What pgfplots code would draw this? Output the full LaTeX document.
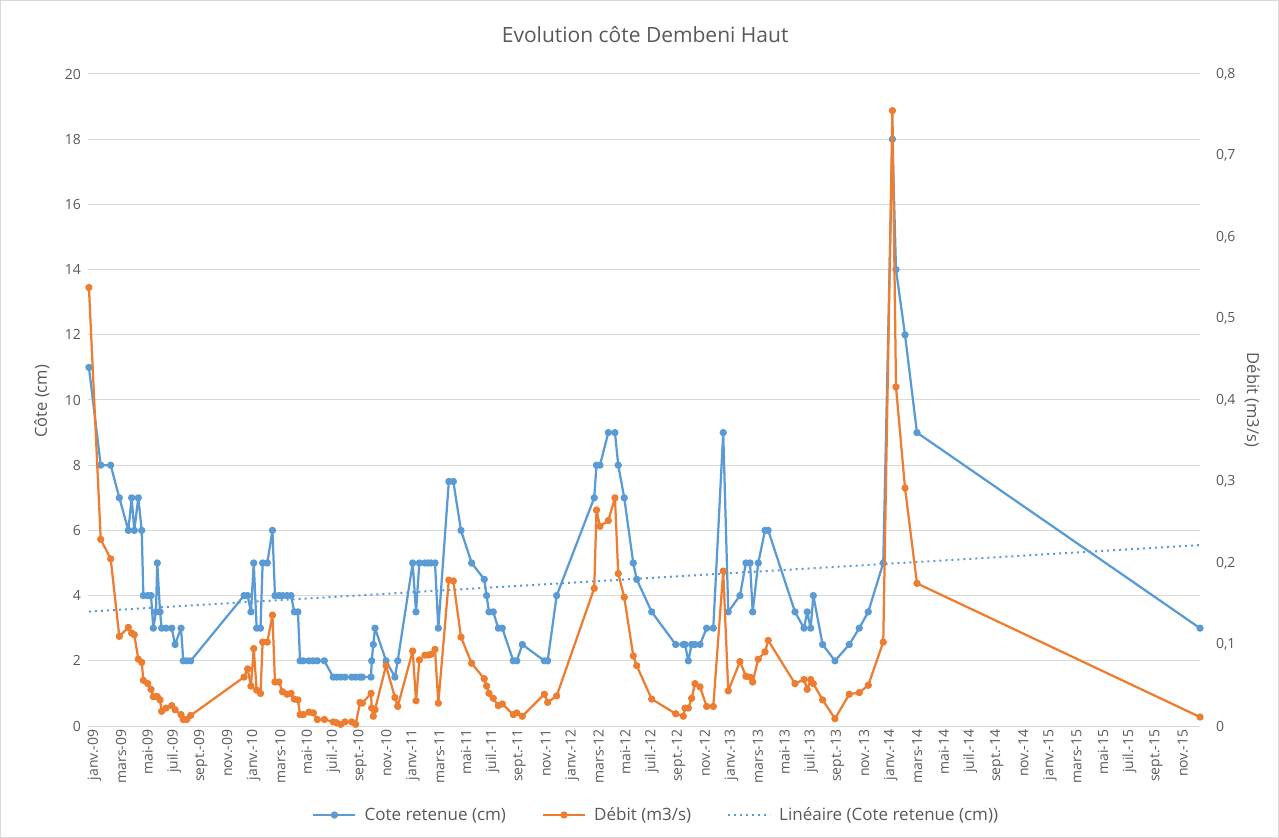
\documentclass[border=0pt]{standalone}
\usepackage{fontspec}
\setmainfont{Open Sans}
\usepackage{pgfplots}
\pgfplotsset{compat=1.18}
\usepackage{pgfplotstable}
\definecolor{cblue}{HTML}{5B9BD5}
\definecolor{corange}{HTML}{ED7D31}
\definecolor{cgrid}{HTML}{D9D9D9}
\definecolor{ctext}{HTML}{595959}

\pgfplotstableread{
m cote debit
-0.08 11 0.538
0.81 8 0.229
1.56 8 0.205
2.21 7 0.110
2.89 6 0.121
3.14 7 0.114
3.34 6 0.112
3.64 7 0.082
3.90 6 0.078
4.02 4 0.056
4.35 4 0.052
4.60 4 0.045
4.77 3 0.036
4.97 3.5 0.036
5.07 5 0.036
5.28 3.5 0.032
5.40 3 0.018
5.73 3 0.022
6.16 3 0.025
6.41 2.5 0.020
6.86 3 0.014
7.03 2 0.008
7.29 2 0.008
7.59 2 0.013
11.61 4 0.060
11.88 4 0.070
12.13 3.5 0.049
12.34 5 0.095
12.56 3 0.044
12.85 3 0.040
13.01 5 0.103
13.36 5 0.103
13.75 6 0.136
13.94 4 0.054
14.24 4 0.054
14.51 4 0.042
14.85 4 0.039
15.15 4 0.040
15.40 3.5 0.033
15.67 3.5 0.032
15.83 2 0.014
16.07 2 0.014
16.50 2 0.017
16.83 2 0.016
17.13 2 0.008
17.66 2 0.008
18.33 1.5 0.005
18.59 1.5 0.004
18.89 1.5 0.002
19.22 1.5 0.005
19.72 1.5 0.005
20.02 1.5 0.002
20.35 1.5 0.029
20.52 1.5 0.028
21.18 1.5 0.040
21.23 2 0.022
21.35 2.5 0.012
21.48 3 0.020
22.31 2 0.074
22.98 1.5 0.035
23.19 2 0.024
24.32 5 0.092
24.57 3.5 0.031
24.82 5 0.081
25.24 5 0.087
25.49 5 0.087
25.70 5 0.088
26.00 5 0.094
26.25 3 0.028
27.04 7.5 0.179
27.38 7.5 0.178
27.96 6 0.109
28.76 5 0.077
29.71 4.5 0.058
29.89 4 0.049
30.07 3.5 0.040
30.39 3.5 0.034
30.77 3 0.025
31.07 3 0.027
31.90 2 0.014
32.16 2 0.016
32.58 2.5 0.012
34.24 2 0.039
34.49 2 0.029
35.17 4 0.037
38.00 7 0.169
38.17 8 0.265
38.43 8 0.245
39.06 9 0.252
39.56 9 0.280
39.81 8 0.187
40.26 7 0.158
40.94 5 0.086
41.20 4.5 0.074
42.33 3.5 0.033
44.14 2.5 0.015
44.71 2.5 0.012
44.84 2.5 0.022
45.09 2 0.022
45.34 2.5 0.034
45.59 2.5 0.052
45.97 2.5 0.048
46.47 3 0.024
46.97 3 0.024
47.72 9 0.190
48.10 3.5 0.043
48.98 4 0.079
49.43 5 0.061
49.74 5 0.060
49.94 3.5 0.054
50.36 5 0.082
50.87 6 0.091
51.11 6 0.105
53.13 3.5 0.052
53.81 3 0.057
54.05 3.5 0.045
54.31 3 0.057
54.51 4 0.052
55.21 2.5 0.032
56.14 2 0.009
57.22 2.5 0.039
57.97 3 0.041
58.65 3.5 0.050
59.78 5 0.103
60.47 18 0.755
60.74 14 0.416
61.42 12 0.292
62.32 9 0.175
83.65 3 0.011
}\datatable

\begin{document}
\begin{tikzpicture}
\useasboundingbox (0,0) rectangle (1279bp,838bp);
\draw[cgrid, line width=1bp] (0.5bp,0.5bp) rectangle (1278.5bp,837.5bp);
\begin{axis}[
  at={(88bp,112bp)}, anchor=south west,
  scale only axis, width=1112bp, height=652bp,
  xmin=-0.15, xmax=83.65, ymin=0, ymax=20,
  clip=false,
  xtick={0,2,...,82},
  xticklabels={janv.-09,mars-09,mai-09,juil.-09,sept.-09,nov.-09,
    janv.-10,mars-10,mai-10,juil.-10,sept.-10,nov.-10,
    janv.-11,mars-11,mai-11,juil.-11,sept.-11,nov.-11,
    janv.-12,mars-12,mai-12,juil.-12,sept.-12,nov.-12,
    janv.-13,mars-13,mai-13,juil.-13,sept.-13,nov.-13,
    janv.-14,mars-14,mai-14,juil.-14,sept.-14,nov.-14,
    janv.-15,mars-15,mai-15,juil.-15,sept.-15,nov.-15},
  ytick={0,2,...,20},
  ymajorgrids, major grid style={cgrid, line width=1bp},
  axis line style={draw=none}, tick style={draw=none}, major tick length=0pt,
  ticklabel style={font=\fontsize{14bp}{16bp}\selectfont, text=ctext},
  xticklabel style={rotate=90, anchor=east, yshift=-4.5bp},
  yticklabel style={anchor=east, xshift=-3.5bp},
  /pgf/number format/assume math mode=true,
  ylabel={Côte (cm)},
  ylabel style={at={(axis description cs:-0.0414,0.498)}, anchor=center,
    font=\fontsize{16.5bp}{19bp}\selectfont, text=ctext},
  title={Evolution côte Dembeni Haut},
  title style={at={(axis description cs:0.501,1.052)}, anchor=center,
    font=\fontsize{21bp}{24bp}\selectfont, text=ctext},
  legend columns=3,
  legend style={at={(axis description cs:0.511,-0.1365)}, anchor=center,
    draw=none, fill=none, font=\fontsize{17bp}{20bp}\selectfont, text=ctext,
    /tikz/every even column/.append style={column sep=34bp},
    /tikz/every odd column/.append style={column sep=6bp}},
  legend image code/.code={\draw[mark repeat=2,mark phase=2,#1] plot coordinates {(0bp,0bp) (21bp,0bp) (42bp,0bp)};},
]
\addplot[cblue, line width=2.25bp, line join=round, mark=*, mark size=2.5bp, mark options={solid}] table[x=m,y=cote]{\datatable};
\addlegendentry{Cote retenue (cm)}
\addlegendimage{corange, line width=2.25bp, line join=round, mark=*, mark size=2.5bp, mark options={solid}}
\addlegendentry{Débit (m3/s)}
\addplot[cblue, line width=2bp, dash pattern=on 2bp off 4bp] coordinates {(-0.08,3.51) (83.65,5.55)};
\addlegendentry{Linéaire (Cote retenue (cm))}
\end{axis}
\begin{axis}[
  at={(88bp,112bp)}, anchor=south west,
  scale only axis, width=1112bp, height=652bp,
  xmin=-0.15, xmax=83.65, ymin=0, ymax=0.8,
  clip=false,
  axis y line*=right, axis x line*=bottom,
  xtick=\empty,
  ytick={0,0.1,0.2,0.3,0.4,0.5,0.6,0.7,0.8},
  axis line style={draw=none}, tick style={draw=none}, major tick length=0pt,
  ticklabel style={font=\fontsize{14bp}{16bp}\selectfont, text=ctext},
  yticklabel={\pgfmathprintnumber[fixed,precision=1,use comma,assume math mode=true]{\tick}},
  yticklabel style={anchor=west, xshift=12.5bp},
  ylabel={Débit (m3/s)},
  ylabel style={at={(axis description cs:1.0468,0.5)}, anchor=center, rotate=180,
    font=\fontsize{16.5bp}{19bp}\selectfont, text=ctext},
]
\addplot[corange, line width=2.25bp, line join=round, mark=*, mark size=2.5bp, mark options={solid}] table[x=m,y=debit]{\datatable};
\end{axis}
\end{tikzpicture}
\end{document}
